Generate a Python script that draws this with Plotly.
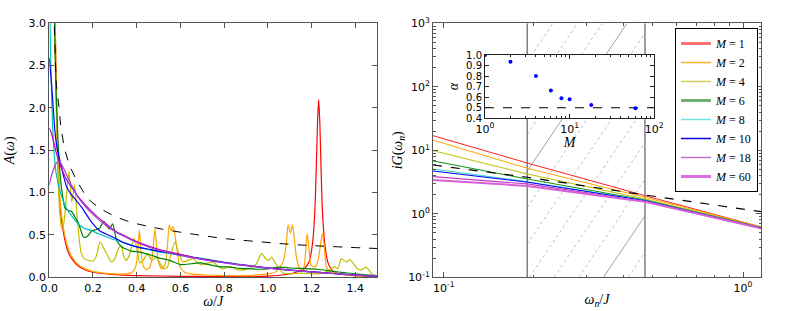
import numpy as np
import plotly.graph_objects as go

# ---------------- left panel: spectral functions A(omega) ----------------
w_dash = [0.015, 0.023, 0.034, 0.044, 0.052, 0.059, 0.072, 0.095, 0.133, 0.178, 0.224, 0.285, 0.361, 0.438, 0.514, 0.658, 0.811, 0.963, 1.1, 1.238, 1.5]
A_dash = [3.6, 2.96, 2.23, 2.02, 1.80, 1.68, 1.50, 1.31, 1.11, 0.93, 0.83, 0.74, 0.66, 0.61, 0.57, 0.51, 0.455, 0.42, 0.39, 0.37, 0.34]

w_M1 = [0.015, 0.02, 0.026, 0.035, 0.049, 0.06, 0.072, 0.085, 0.1, 0.13, 0.163, 0.2, 0.285, 0.4, 0.6, 0.8, 1.0, 1.08, 1.13, 1.17, 1.19, 1.205, 1.215, 1.222, 1.228, 1.233, 1.238, 1.244, 1.25, 1.26, 1.276, 1.3, 1.35, 1.4, 1.5]
A_M1 = [9.0, 5.5, 3.2, 1.75, 0.85, 0.6, 0.43, 0.31, 0.23, 0.14, 0.09, 0.06, 0.035, 0.02, 0.012, 0.01, 0.015, 0.03, 0.06, 0.11, 0.19, 0.4, 0.76, 1.28, 1.85, 2.1, 1.85, 1.28, 0.8, 0.42, 0.17, 0.07, 0.03, 0.02, 0.01]

w_M2 = [0.016, 0.021, 0.027, 0.036, 0.05, 0.062, 0.074, 0.087, 0.102, 0.132, 0.165, 0.2, 0.25, 0.3, 0.35, 0.38, 0.395, 0.405, 0.412, 0.42, 0.43, 0.445, 0.46, 0.47, 0.477, 0.483, 0.49, 0.5, 0.515, 0.53, 0.54, 0.549, 0.558, 0.567, 0.575, 0.583, 0.598, 0.62, 0.65, 0.7, 0.8, 0.9, 0.95, 1.0, 1.04, 1.07, 1.085, 1.093, 1.104, 1.113, 1.122, 1.131, 1.143, 1.154, 1.165, 1.173, 1.18, 1.188, 1.197, 1.207, 1.22, 1.232, 1.242, 1.25, 1.258, 1.268, 1.285, 1.314, 1.35, 1.4, 1.5]
A_M2 = [9.0, 5.2, 3.1, 1.7, 0.88, 0.63, 0.46, 0.34, 0.25, 0.15, 0.1, 0.07, 0.05, 0.04, 0.04, 0.06, 0.12, 0.3, 0.56, 0.3, 0.13, 0.09, 0.12, 0.22, 0.4, 0.57, 0.4, 0.18, 0.1, 0.15, 0.35, 0.62, 0.55, 0.6, 0.5, 0.36, 0.125, 0.06, 0.04, 0.03, 0.02, 0.02, 0.03, 0.04, 0.07, 0.18, 0.4, 0.62, 0.52, 0.62, 0.45, 0.24, 0.12, 0.086, 0.12, 0.28, 0.52, 0.35, 0.15, 0.125, 0.13, 0.22, 0.4, 0.52, 0.38, 0.125, 0.07, 0.047, 0.03, 0.02, 0.01]

w_M4 = [0.01, 0.02, 0.03, 0.038, 0.047, 0.056, 0.065, 0.075, 0.083, 0.09, 0.097, 0.103, 0.11, 0.116, 0.125, 0.135, 0.145, 0.16, 0.18, 0.2, 0.215, 0.232, 0.25, 0.27, 0.285, 0.3, 0.315, 0.328, 0.34, 0.35, 0.365, 0.378, 0.389, 0.40, 0.415, 0.43, 0.45, 0.47, 0.49, 0.51, 0.525, 0.54, 0.555, 0.575, 0.59, 0.613, 0.635, 0.658, 0.68, 0.704, 0.727, 0.75, 0.773, 0.796, 0.826, 0.85, 0.872, 0.895, 0.918, 0.948, 0.971, 0.991, 1.005, 1.017, 1.04, 1.07, 1.1, 1.15, 1.2, 1.25, 1.28, 1.306, 1.32, 1.337, 1.36, 1.375, 1.39, 1.41, 1.43, 1.45, 1.465, 1.48, 1.5]
A_M4 = [6.0, 3.6, 2.2, 1.35, 0.8, 0.58, 0.62, 0.85, 1.1, 1.25, 1.05, 0.89, 1.0, 1.09, 0.8, 0.5, 0.3, 0.22, 0.2, 0.19, 0.25, 0.42, 0.34, 0.24, 0.18, 0.22, 0.33, 0.38, 0.26, 0.2, 0.25, 0.38, 0.46, 0.35, 0.17, 0.2, 0.28, 0.2, 0.24, 0.15, 0.1, 0.12, 0.25, 0.42, 0.3, 0.18, 0.2, 0.22, 0.17, 0.145, 0.17, 0.18, 0.13, 0.1, 0.125, 0.1, 0.086, 0.09, 0.106, 0.16, 0.28, 0.22, 0.2, 0.24, 0.145, 0.05, 0.04, 0.05, 0.04, 0.05, 0.08, 0.125, 0.1, 0.22, 0.18, 0.21, 0.17, 0.1, 0.09, 0.12, 0.08, 0.03, 0.02]

w_M6 = [0.01, 0.02, 0.03, 0.04, 0.05, 0.057, 0.065, 0.072, 0.087, 0.1, 0.11, 0.12, 0.133, 0.145, 0.155, 0.165, 0.18, 0.195, 0.21, 0.23, 0.25, 0.265, 0.275, 0.29, 0.308, 0.33, 0.346, 0.375, 0.407, 0.44, 0.468, 0.5, 0.55, 0.6, 0.65, 0.69, 0.73, 0.78, 0.83, 0.872, 0.92, 0.963, 1.0, 1.055, 1.1, 1.15, 1.19, 1.23, 1.3, 1.35, 1.4, 1.45, 1.5]
A_M6 = [5.0, 3.5, 2.3, 1.6, 1.2, 1.03, 0.9, 0.82, 0.79, 0.78, 0.75, 0.7, 0.64, 0.55, 0.48, 0.47, 0.5, 0.55, 0.56, 0.58, 0.66, 0.6, 0.57, 0.63, 0.44, 0.36, 0.34, 0.31, 0.3, 0.28, 0.26, 0.23, 0.2, 0.15, 0.16, 0.17, 0.15, 0.125, 0.12, 0.106, 0.1, 0.095, 0.1, 0.12, 0.11, 0.105, 0.1, 0.095, 0.07, 0.055, 0.04, 0.03, 0.02]

w_M8 = [0.0, 0.004, 0.01, 0.017, 0.03, 0.049, 0.07, 0.087, 0.11, 0.133, 0.16, 0.194, 0.22, 0.25, 0.3, 0.35, 0.4, 0.45, 0.5, 0.55, 0.6, 0.65, 0.7, 0.75, 0.8, 0.85, 0.9, 0.95, 1.0, 1.1, 1.2, 1.3, 1.4, 1.5]
A_M8 = [3.6, 2.9, 2.2, 1.7, 1.25, 1.02, 0.86, 0.78, 0.7, 0.63, 0.58, 0.55, 0.52, 0.49, 0.44, 0.4, 0.36, 0.33, 0.3, 0.28, 0.26, 0.24, 0.225, 0.2, 0.18, 0.16, 0.145, 0.125, 0.11, 0.085, 0.065, 0.045, 0.028, 0.015]

w_M10 = [0.0, 0.011, 0.018, 0.026, 0.034, 0.045, 0.056, 0.067, 0.079, 0.1, 0.125, 0.15, 0.17, 0.2, 0.23, 0.27, 0.31, 0.35, 0.4, 0.46, 0.5, 0.55, 0.6, 0.65, 0.7, 0.75, 0.8, 0.85, 0.9, 0.95, 1.0, 1.05, 1.1, 1.15, 1.2, 1.25, 1.3, 1.35, 1.4, 1.45, 1.5]
A_M10 = [2.59, 2.27, 2.0, 1.72, 1.55, 1.42, 1.3, 1.18, 1.07, 0.98, 0.9, 0.82, 0.74, 0.63, 0.55, 0.5, 0.45, 0.4, 0.36, 0.33, 0.31, 0.29, 0.265, 0.24, 0.215, 0.195, 0.175, 0.155, 0.14, 0.125, 0.11, 0.097, 0.085, 0.075, 0.065, 0.055, 0.045, 0.035, 0.027, 0.018, 0.01]

w_M18 = [0.0, 0.01, 0.02, 0.03, 0.045, 0.06, 0.08, 0.1, 0.133, 0.17, 0.209, 0.255, 0.3, 0.361, 0.42, 0.5, 0.6, 0.7, 0.8, 0.9, 1.0, 1.1, 1.2, 1.3, 1.4, 1.5]
A_M18 = [1.76, 1.7, 1.6, 1.49, 1.36, 1.26, 1.15, 1.07, 0.95, 0.84, 0.74, 0.64, 0.55, 0.47, 0.4, 0.33, 0.27, 0.215, 0.175, 0.14, 0.112, 0.086, 0.064, 0.045, 0.027, 0.012]

w_M60 = [0.0, 0.01, 0.02, 0.03, 0.041, 0.055, 0.07, 0.09, 0.11, 0.133, 0.17, 0.209, 0.255, 0.3, 0.361, 0.42, 0.5, 0.6, 0.7, 0.8, 0.9, 1.0, 1.1, 1.2, 1.3, 1.4, 1.5]
A_M60 = [1.09, 1.2, 1.28, 1.34, 1.37, 1.34, 1.26, 1.15, 1.05, 0.94, 0.82, 0.72, 0.62, 0.54, 0.46, 0.39, 0.32, 0.26, 0.21, 0.17, 0.137, 0.108, 0.083, 0.062, 0.043, 0.026, 0.01]

# ---------------- right panel: iG(omega_n) on Matsubara axis ----------------
wn_pts = [0.092, 0.19, 0.47, 1.148]
G_M1 = [17.0, 6.3, 1.93, 0.62]
G_M2 = [14.5, 5.2, 1.82, 0.62]
G_M4 = [9.9, 4.24, 1.71, 0.61]
G_M6 = [6.8, 3.53, 1.65, 0.61]
G_M8 = [5.07, 3.2, 1.62, 0.60]
G_M10 = [4.72, 3.15, 1.61, 0.60]
G_M18 = [3.84, 2.95, 1.56, 0.59]
G_M60 = [3.4, 2.75, 1.55, 0.59]
G_dash = [5.87, 3.76, 1.98, 1.08]
fit_window = [0.19, 0.47]

# ---------------- inset: exponent alpha vs M ----------------
M_vals = [1, 2, 4, 6, 8, 10, 18, 60]
alpha_vals = [1.0, 0.937, 0.80, 0.664, 0.59, 0.58, 0.527, 0.496]
alpha_ref = 0.5

labels = ["1", "2", "4", "6", "8", "10", "18", "60"]
left_colors = ["#ff0000", "#ffa500", "#bfbf00", "#008000", "#00bfbf", "#0000ff", "#bf00bf", "#a040d0"]
right_colors = ["#ff2020", "#ffa500", "#bfbf00", "#109010", "#30d0d0", "#0000ff", "#c040c0", "#d860d8"]
right_widths = [1, 1, 1, 1, 1, 1, 1.2, 2]
legend_colors = ["#ff7070", "#ffb020", "#cccc55", "#70b070", "#70e0e0", "#0000dd", "#c070c0", "#e070e0"]
legend_widths = [3, 1.5, 1.5, 3, 1.5, 1.5, 1.5, 3]

left_w = [w_M1, w_M2, w_M4, w_M6, w_M8, w_M10, w_M18, w_M60]
left_A = [A_M1, A_M2, A_M4, A_M6, A_M8, A_M10, A_M18, A_M60]
right_G = [G_M1, G_M2, G_M4, G_M6, G_M8, G_M10, G_M18, G_M60]

W, H = 789, 311
def fx(px):
    return px / W
def fy(py):
    return 1 - py / H

fig = go.Figure()

# left panel traces
for w, A, c in zip(left_w, left_A, left_colors):
    fig.add_trace(go.Scatter(x=w, y=A, mode="lines", line=dict(color=c, width=1.2, shape="spline", smoothing=0.6),
                             showlegend=False, xaxis="x", yaxis="y", hoverinfo="skip"))
fig.add_trace(go.Scatter(x=w_dash, y=A_dash, mode="lines", line=dict(color="black", width=1, dash="dash", shape="spline"),
                         showlegend=False, xaxis="x", yaxis="y", hoverinfo="skip"))

# right panel: hatched fit window
lx_a, lx_b = np.log10(fit_window[0]), np.log10(fit_window[1])
slope = 6.97
span = 4.0 / slope
step = 0.0825
c0 = -0.4666
hx_s, hy_s, hx_d, hy_d = [], [], [], []
for i in range(-12, 12):
    c = c0 + i * step
    x0 = max(lx_a, c)
    x1 = min(lx_b, c + span)
    if x1 <= x0:
        continue
    y0 = -1 + slope * (x0 - c)
    y1 = -1 + slope * (x1 - c)
    seg_x = [10 ** x0, 10 ** x1, None]
    seg_y = [10 ** y0, 10 ** y1, None]
    if i % 6 == 0:
        hx_s += seg_x; hy_s += seg_y
    else:
        hx_d += seg_x; hy_d += seg_y
fig.add_trace(go.Scatter(x=hx_d, y=hy_d, mode="lines", line=dict(color="#b8b8b8", width=0.9, dash="dot"),
                         showlegend=False, xaxis="x2", yaxis="y2", hoverinfo="skip"))
fig.add_trace(go.Scatter(x=hx_s, y=hy_s, mode="lines", line=dict(color="#8a8a8a", width=0.8),
                         showlegend=False, xaxis="x2", yaxis="y2", hoverinfo="skip"))
for xv in fit_window:
    fig.add_trace(go.Scatter(x=[xv, xv], y=[0.1, 1000], mode="lines", line=dict(color="#808080", width=1.5),
                             showlegend=False, xaxis="x2", yaxis="y2", hoverinfo="skip"))

for G, c, lw in zip(right_G, right_colors, right_widths):
    fig.add_trace(go.Scatter(x=wn_pts, y=G, mode="lines", line=dict(color=c, width=lw),
                             showlegend=False, xaxis="x2", yaxis="y2", hoverinfo="skip"))
fig.add_trace(go.Scatter(x=wn_pts, y=G_dash, mode="lines", line=dict(color="black", width=1.2, dash="dash"),
                         showlegend=False, xaxis="x2", yaxis="y2", hoverinfo="skip"))

# legend entries
for lab, c, lw in zip(labels, legend_colors, legend_widths):
    fig.add_trace(go.Scatter(x=[None], y=[None], mode="lines", line=dict(color=c, width=lw),
                             name="<i>M</i> = " + lab, xaxis="x2", yaxis="y2"))

# inset
fig.add_trace(go.Scatter(x=[1, 100, 100, 1, 1], y=[0.4, 0.4, 1.0, 1.0, 0.4], mode="lines", fill="toself",
                         fillcolor="white", line=dict(width=0), showlegend=False, xaxis="x3", yaxis="y3", hoverinfo="skip"))
fig.add_trace(go.Scatter(x=[1, 100], y=[alpha_ref, alpha_ref], mode="lines", line=dict(color="black", width=1.2, dash="dash"),
                         showlegend=False, xaxis="x3", yaxis="y3", hoverinfo="skip"))
fig.add_trace(go.Scatter(x=M_vals, y=alpha_vals, mode="markers", marker=dict(color="#0000ff", size=4),
                         showlegend=False, xaxis="x3", yaxis="y3", hoverinfo="skip"))

def axis_common(color="#555555", size=11):
    return dict(showline=True, linecolor=color, linewidth=1, mirror="ticks", ticks="inside",
                tickcolor=color, showgrid=False, zeroline=False, automargin=False,
                tickfont=dict(family="DejaVu Sans", size=size, color="black"))
title_font = dict(family="Liberation Serif", size=14, color="black")

def minor_log(lo, hi):
    vals = []
    for e in range(lo, hi):
        for k in range(2, 10):
            vals.append(k * 10.0 ** e)
    return vals

fig.update_layout(
    width=W, height=H, margin=dict(l=0, r=0, t=0, b=0, autoexpand=False),
    paper_bgcolor="white", plot_bgcolor="white",
    xaxis=dict(domain=[fx(49.3), fx(377)], anchor="y", range=[0, 1.5], tickvals=[0, 0.2, 0.4, 0.6, 0.8, 1.0, 1.2, 1.4],
               tickformat=".1f", ticklen=5,
               title=dict(text="<i>ω</i>/<i>J</i>", font=title_font, standoff=1), **axis_common()),
    yaxis=dict(domain=[fy(277.3), fy(23.3)], anchor="x", range=[0, 3], tickvals=[0, 0.5, 1.0, 1.5, 2.0, 2.5, 3.0],
               tickformat=".1f", ticklen=5,
               title=dict(text="<i>A</i>(<i>ω</i>)", font=title_font, standoff=10), **axis_common()),
    xaxis2=dict(domain=[fx(433), fx(761)], anchor="y2", type="log", range=[np.log10(0.092), np.log10(1.148)],
                tickvals=[0.1, 1], ticktext=["10<sup>-1</sup>", "10<sup>0</sup>"], ticklen=5,
                minor=dict(tickvals=minor_log(-1, 1), ticks="inside", ticklen=2.5, tickcolor="#555555"),
                title=dict(text="<i>ω<sub>n</sub></i>/<i>J</i>", font=title_font, standoff=0), **axis_common()),
    yaxis2=dict(domain=[fy(277.3), fy(23.3)], anchor="x2", type="log", range=[-1, 3],
                tickvals=[0.1, 1, 10, 100, 1000],
                ticktext=["10<sup>-1</sup>", "10<sup>0</sup>", "10<sup>1</sup>", "10<sup>2</sup>", "10<sup>3</sup>"],
                ticklen=5, minor=dict(tickvals=minor_log(-1, 3), ticks="inside", ticklen=2.5, tickcolor="#555555"),
                title=dict(text="<i>iG</i>(<i>ω<sub>n</sub></i>)", font=title_font, standoff=2), **axis_common()),
    xaxis3=dict(domain=[fx(485), fx(654.3)], anchor="y3", type="log", range=[0, 2],
                tickvals=[1, 10, 100], ticktext=["10<sup>0</sup>", "10<sup>1</sup>", "10<sup>2</sup>"], ticklen=4,
                minor=dict(tickvals=minor_log(0, 2), ticks="inside", ticklen=2, tickcolor="#222222"),
                title=dict(text="<i>M</i>", font=title_font, standoff=1), **axis_common("#222222", 11)),
    yaxis3=dict(domain=[fy(118.3), fy(55)], anchor="x3", range=[0.4, 1.0],
                tickvals=[0.4, 0.5, 0.6, 0.7, 0.8, 0.9, 1.0], tickformat=".1f", ticklen=4,
                title=dict(text="<i>α</i>", font=title_font, standoff=4), **axis_common("#222222", 10)),
    legend=dict(x=fx(675), y=fy(28), xanchor="left", yanchor="top", bgcolor="white", bordercolor="black",
                borderwidth=1, font=dict(family="Liberation Serif", size=12, color="black"),
                itemwidth=30, tracegroupgap=0),
)

fig.write_html("out.html", config={"displayModeBar": False},
               post_script="document.body.style.margin='0';document.body.style.overflow='hidden';")
